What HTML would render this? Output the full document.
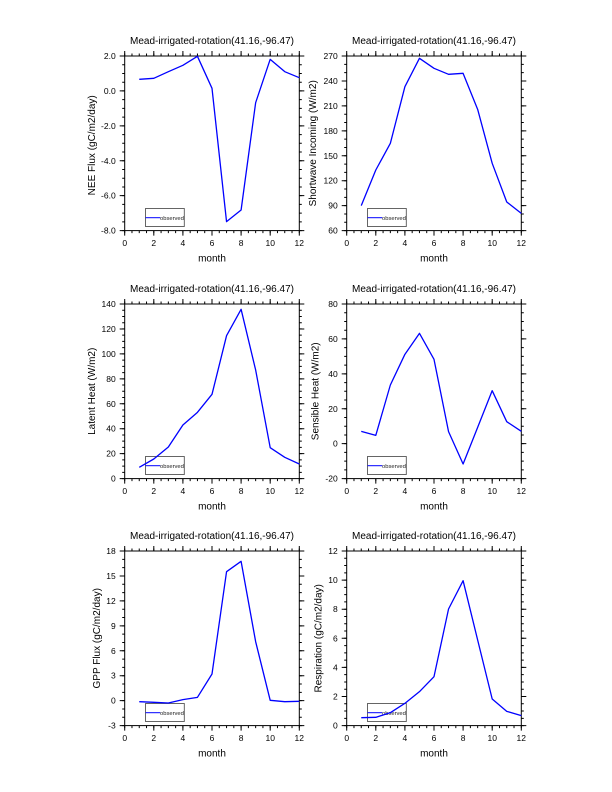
<!DOCTYPE html>
<html>
<head>
<meta charset="utf-8">
<style>
html,body{margin:0;padding:0;background:#fff;}
svg{display:block;}
text{font-family:"Liberation Sans",Arial,sans-serif;fill:#000;}
.tl{font-size:8.5px;}
.ttl{font-size:10px;text-anchor:middle;}
.ax{font-size:10px;text-anchor:middle;}
.yl{text-anchor:end;}
.xl{text-anchor:middle;}
.lg{font-size:5.8px;fill:#222;}
.frame{fill:none;stroke:#000;stroke-width:1;}
.tk{stroke:#000;fill:none;}
.data{fill:none;stroke:#0000ff;stroke-width:1.3;stroke-linejoin:round;}
.lbox{fill:none;stroke:#555;stroke-width:0.9;}
</style>
</head>
<body>
<svg width="612" height="792" viewBox="0 0 612 792" xmlns="http://www.w3.org/2000/svg">
<defs>
  <!-- common x ticks / frame for a 174.6 x 174.6 panel -->
  <g id="xt">
    <rect class="frame" x="0" y="0" width="174.6" height="174.6"/>
    <!-- bottom minor / major -->
    <line class="tk" x1="-0.5" y1="175.85" x2="175.1" y2="175.85" stroke-width="2.5" stroke-dasharray="1 6.275"/>
    <line class="tk" x1="-0.5" y1="177.1" x2="175.1" y2="177.1" stroke-width="5" stroke-dasharray="1 28.1"/>
    <!-- top minor / major -->
    <line class="tk" x1="-0.5" y1="-1.25" x2="175.1" y2="-1.25" stroke-width="2.5" stroke-dasharray="1 6.275"/>
    <line class="tk" x1="-0.5" y1="-2.5" x2="175.1" y2="-2.5" stroke-width="5" stroke-dasharray="1 28.1"/>
    <g class="tl xl">
      <text x="0" y="190.2">0</text>
      <text x="29.1" y="190.2">2</text>
      <text x="58.2" y="190.2">4</text>
      <text x="87.3" y="190.2">6</text>
      <text x="116.4" y="190.2">8</text>
      <text x="145.5" y="190.2">10</text>
      <text x="174.6" y="190.2">12</text>
    </g>
    <text class="ax" x="87.3" y="205.6">month</text>
    <text class="ttl" x="87.3" y="-12">Mead-irrigated-rotation(41.16,-96.47)</text>
    <rect class="lbox" x="20.8" y="152.5" width="38.8" height="18"/>
    <line x1="20.8" y1="161.7" x2="35.5" y2="161.7" stroke="#0000ff" stroke-width="1"/>
    <text class="lg" x="35.3" y="163.8">observed</text>
  </g>
</defs>

<!-- Panel 1: NEE -->
<g transform="translate(124.7,56)">
  <use href="#xt"/>
  <line class="tk" x1="-1.25" y1="175.1" x2="-1.25" y2="-0.5" stroke-width="2.5" stroke-dasharray="1 7.73"/>
  <line class="tk" x1="-2.5" y1="175.1" x2="-2.5" y2="-0.5" stroke-width="5" stroke-dasharray="1 33.92"/>
  <line class="tk" x1="175.85" y1="175.1" x2="175.85" y2="-0.5" stroke-width="2.5" stroke-dasharray="1 7.73"/>
  <line class="tk" x1="177.1" y1="175.1" x2="177.1" y2="-0.5" stroke-width="5" stroke-dasharray="1 33.92"/>
  <g class="tl yl">
    <text x="-9" y="177.6">-8.0</text>
    <text x="-9" y="142.7">-6.0</text>
    <text x="-9" y="107.8">-4.0</text>
    <text x="-9" y="72.8">-2.0</text>
    <text x="-9" y="37.9">0.0</text>
    <text x="-9" y="3">2.0</text>
  </g>
  <text class="ax" transform="translate(-29.5,89.3) rotate(-90)" x="0" y="0">NEE Flux (gC/m2/day)</text>
  <polyline class="data" points="14.55,23.33 29.1,22.33 43.65,15.67 58.2,9.33 72.75,0.33 87.3,32.33 101.85,165.67 116.4,154 130.95,46.67 145.5,3.33 160.05,15.67 174.6,21.67"/>
</g>

<!-- Panel 2: Shortwave -->
<g transform="translate(346.7,56)">
  <use href="#xt"/>
  <line class="tk" x1="-1.25" y1="175.1" x2="-1.25" y2="-0.5" stroke-width="2.5" stroke-dasharray="1 7.314"/>
  <line class="tk" x1="-2.5" y1="175.1" x2="-2.5" y2="-0.5" stroke-width="5" stroke-dasharray="1 23.943"/>
  <line class="tk" x1="175.85" y1="175.1" x2="175.85" y2="-0.5" stroke-width="2.5" stroke-dasharray="1 7.314"/>
  <line class="tk" x1="177.1" y1="175.1" x2="177.1" y2="-0.5" stroke-width="5" stroke-dasharray="1 23.943"/>
  <g class="tl yl">
    <text x="-9" y="177.6">60</text>
    <text x="-9" y="152.7">90</text>
    <text x="-9" y="127.7">120</text>
    <text x="-9" y="102.8">150</text>
    <text x="-9" y="77.8">180</text>
    <text x="-9" y="52.9">210</text>
    <text x="-9" y="27.9">240</text>
    <text x="-9" y="3">270</text>
  </g>
  <text class="ax" transform="translate(-30.5,87.3) rotate(-90)" x="0" y="0">Shortwave Incoming (W/m2)</text>
  <polyline class="data" points="14.55,149.67 29.1,114 43.65,87.33 58.2,30.67 72.75,2.33 87.3,12.33 101.85,18.33 116.4,17.33 130.95,53.33 145.5,107.33 160.05,146 174.6,157.33"/>
</g>

<!-- Panel 3: Latent Heat -->
<g transform="translate(124.7,304)">
  <use href="#xt"/>
  <line class="tk" x1="-1.25" y1="175.1" x2="-1.25" y2="-0.5" stroke-width="2.5" stroke-dasharray="1 5.236"/>
  <line class="tk" x1="-2.5" y1="175.1" x2="-2.5" y2="-0.5" stroke-width="5" stroke-dasharray="1 23.943"/>
  <line class="tk" x1="175.85" y1="175.1" x2="175.85" y2="-0.5" stroke-width="2.5" stroke-dasharray="1 5.236"/>
  <line class="tk" x1="177.1" y1="175.1" x2="177.1" y2="-0.5" stroke-width="5" stroke-dasharray="1 23.943"/>
  <g class="tl yl">
    <text x="-9" y="177.6">0</text>
    <text x="-9" y="152.7">20</text>
    <text x="-9" y="127.7">40</text>
    <text x="-9" y="102.8">60</text>
    <text x="-9" y="77.8">80</text>
    <text x="-9" y="52.9">100</text>
    <text x="-9" y="27.9">120</text>
    <text x="-9" y="3">140</text>
  </g>
  <text class="ax" transform="translate(-29.5,87.3) rotate(-90)" x="0" y="0">Latent Heat (W/m2)</text>
  <polyline class="data" points="14.55,163.33 29.1,155 43.65,143 58.2,121 72.75,108.33 87.3,90.33 101.85,31.67 116.4,5.33 130.95,66 145.5,143.67 160.05,153.33 174.6,160"/>
</g>

<!-- Panel 4: Sensible Heat -->
<g transform="translate(346.7,304)">
  <use href="#xt"/>
  <line class="tk" x1="-1.25" y1="175.1" x2="-1.25" y2="-0.5" stroke-width="2.5" stroke-dasharray="1 7.73"/>
  <line class="tk" x1="-2.5" y1="175.1" x2="-2.5" y2="-0.5" stroke-width="5" stroke-dasharray="1 33.92"/>
  <line class="tk" x1="175.85" y1="175.1" x2="175.85" y2="-0.5" stroke-width="2.5" stroke-dasharray="1 7.73"/>
  <line class="tk" x1="177.1" y1="175.1" x2="177.1" y2="-0.5" stroke-width="5" stroke-dasharray="1 33.92"/>
  <g class="tl yl">
    <text x="-9" y="177.6">-20</text>
    <text x="-9" y="142.7">0</text>
    <text x="-9" y="107.8">20</text>
    <text x="-9" y="72.8">40</text>
    <text x="-9" y="37.9">60</text>
    <text x="-9" y="3">80</text>
  </g>
  <text class="ax" transform="translate(-28.2,87.3) rotate(-90)" x="0" y="0">Sensible Heat (W/m2)</text>
  <polyline class="data" points="14.55,127.33 29.1,131.33 43.65,81 58.2,50.33 72.75,29.33 87.3,55.33 101.85,127.67 116.4,160 130.95,123.33 145.5,86.67 160.05,117.67 174.6,127.33"/>
</g>

<!-- Panel 5: GPP -->
<g transform="translate(124.7,551)">
  <use href="#xt"/>
  <line class="tk" x1="-1.25" y1="175.1" x2="-1.25" y2="-0.5" stroke-width="2.5" stroke-dasharray="1 7.314"/>
  <line class="tk" x1="-2.5" y1="175.1" x2="-2.5" y2="-0.5" stroke-width="5" stroke-dasharray="1 23.943"/>
  <line class="tk" x1="175.85" y1="175.1" x2="175.85" y2="-0.5" stroke-width="2.5" stroke-dasharray="1 7.314"/>
  <line class="tk" x1="177.1" y1="175.1" x2="177.1" y2="-0.5" stroke-width="5" stroke-dasharray="1 23.943"/>
  <g class="tl yl">
    <text x="-9" y="177.6">-3</text>
    <text x="-9" y="152.7">0</text>
    <text x="-9" y="127.7">3</text>
    <text x="-9" y="102.8">6</text>
    <text x="-9" y="77.8">9</text>
    <text x="-9" y="52.9">12</text>
    <text x="-9" y="27.9">15</text>
    <text x="-9" y="3">18</text>
  </g>
  <text class="ax" transform="translate(-24.5,87.3) rotate(-90)" x="0" y="0">GPP Flux (gC/m2/day)</text>
  <polyline class="data" points="14.55,150.67 29.1,151.33 43.65,152 58.2,148.67 72.75,146.33 87.3,123 101.85,20.67 116.4,10.33 130.95,90.67 145.5,149.33 160.05,150.67 174.6,150.33"/>
</g>

<!-- Panel 6: Respiration -->
<g transform="translate(346.7,551)">
  <use href="#xt"/>
  <line class="tk" x1="-1.25" y1="175.1" x2="-1.25" y2="-0.5" stroke-width="2.5" stroke-dasharray="1 6.275"/>
  <line class="tk" x1="-2.5" y1="175.1" x2="-2.5" y2="-0.5" stroke-width="5" stroke-dasharray="1 28.1"/>
  <line class="tk" x1="175.85" y1="175.1" x2="175.85" y2="-0.5" stroke-width="2.5" stroke-dasharray="1 6.275"/>
  <line class="tk" x1="177.1" y1="175.1" x2="177.1" y2="-0.5" stroke-width="5" stroke-dasharray="1 28.1"/>
  <g class="tl yl">
    <text x="-9" y="177.6">0</text>
    <text x="-9" y="148.5">2</text>
    <text x="-9" y="119.4">4</text>
    <text x="-9" y="90.3">6</text>
    <text x="-9" y="61.2">8</text>
    <text x="-9" y="32.1">10</text>
    <text x="-9" y="3">12</text>
  </g>
  <text class="ax" transform="translate(-25,87.3) rotate(-90)" x="0" y="0">Respiration (gC/m2/day)</text>
  <polyline class="data" points="14.55,166.67 29.1,166.33 43.65,161.67 58.2,152.33 72.75,140.67 87.3,125.67 101.85,58 116.4,29.67 130.95,89 145.5,148 160.05,160.33 174.6,164.67"/>
</g>
</svg>
</body>
</html>
